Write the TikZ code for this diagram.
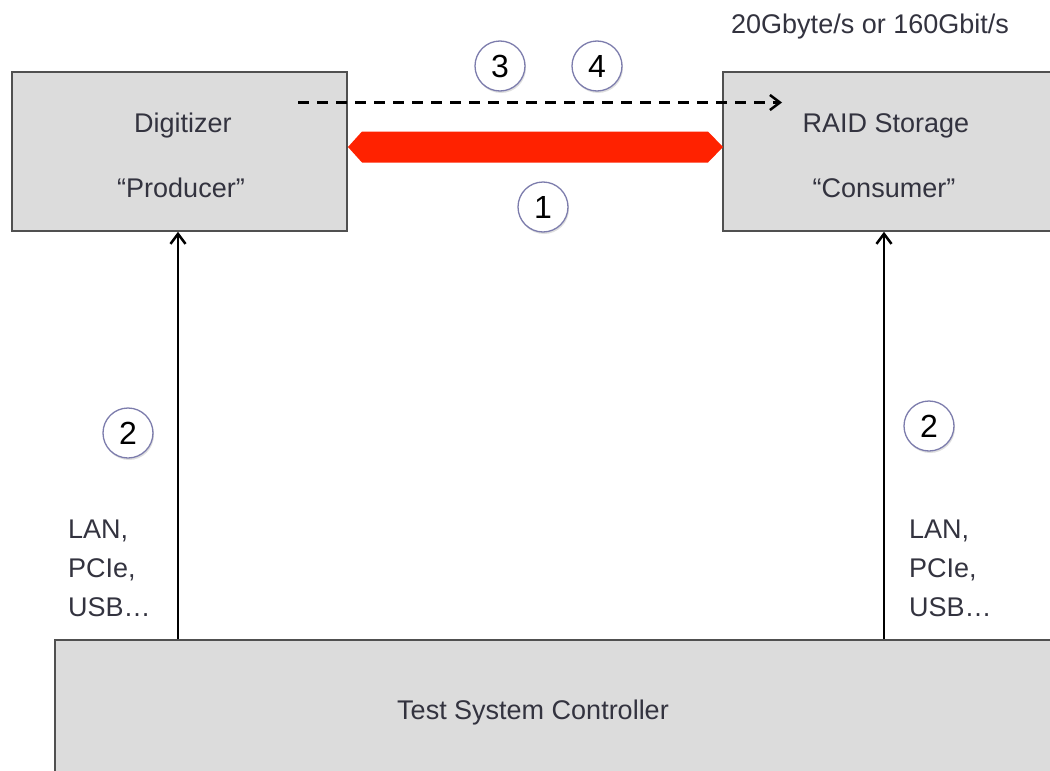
\documentclass[tikz,border=0pt]{standalone}
\usepackage{fontspec}
\setmainfont{Liberation Sans}
\usetikzlibrary{arrows.meta,shadows,calc}
\definecolor{boxfill}{HTML}{DCDCDC}
\definecolor{boxline}{HTML}{505050}
\definecolor{txt}{HTML}{33333F}
\definecolor{redlink}{HTML}{FF2200}
\definecolor{circline}{HTML}{7C7CAC}
\begin{document}
\begin{tikzpicture}[x=1pt,y=-1pt,
  blk/.style={draw=boxline,line width=1.6pt,fill=boxfill,inner sep=0pt},
  lbl/.style={text=txt,font=\fontsize{27}{32}\selectfont,inner sep=0pt},
  multi/.style={text=txt,font=\fontsize{27}{39}\selectfont,inner sep=0pt,align=left,anchor=north west},
  num/.style={circle,draw=circline,line width=1.3pt,fill=white,minimum size=50pt,inner sep=0pt,
    font=\fontsize{32}{34}\selectfont,text=black,
    drop shadow={shadow xshift=1pt,shadow yshift=-2pt,opacity=0.25}},
  link/.style={line width=2.5pt,black,-{Straight Barb[length=10pt,width=15pt,line width=2.5pt]}},
]
\useasboundingbox (0,0) rectangle (1050,771);
\clip (0,0) rectangle (1050,771);
% boxes
\node[blk,minimum width=335pt,minimum height=159pt] (dig) at (179.5,151.5) {};
\node[blk,minimum width=340pt,minimum height=159pt] (raid) at (893,151.5) {};
\node[blk,minimum width=1010pt,minimum height=145pt] (tsc) at (560,712.5) {};
% box texts
\node[lbl,anchor=base] (digt) at (183,132) {Digitizer};
\node[lbl,anchor=base] (prod) at (181,197) {“Producer”};
\node[lbl,anchor=base] (raidt) at (886,132) {RAID Storage};
\node[lbl,anchor=base] (cons) at (884,197) {“Consumer”};
\node[lbl,anchor=base] (tsct) at (533,719) {Test System Controller};
% rate label
\node[lbl,anchor=base west] (rate) at (731,33) {20Gbyte/s or 160Gbit/s};
% red bidirectional link
\coordinate (rl) at (348,147);
\coordinate (rr) at (723,147);
\fill[redlink] (rl) -- ++(14,-15.5) -- ($(rr)+(-15,-15.5)$) -- (rr) -- ($(rr)+(-15,15.5)$) -- ($(rl)+(14,15.5)$) -- cycle;
% dashed arrow
\coordinate (ds) at (298,102.5);
\coordinate (de) at (782,102.5);
\draw[line width=2.6pt,dash pattern=on 11pt off 8pt,-{Straight Barb[length=10pt,width=15pt,line width=2.5pt]}] (ds) -- (de);
% vertical arrows
\draw[link] (tsc.north -| 178,0) -- (dig.south -| 178,0);
\draw[link] (tsc.north -| 884,0) -- (raid.south -| 884,0);
% interface labels
\node[multi] (lanl) at (68,520) {LAN,\\PCIe,\\USB…};
\node[multi] (lanr) at (909,520) {LAN,\\PCIe,\\USB…};
% numbered circles
\node[num] (c3) at (500,66) {3};
\node[num] (c4) at (597,66) {4};
\node[num] (c1) at (543,207) {1};
\node[num] (c2l) at (128,433) {2};
\node[num] (c2r) at (929,426) {2};
\end{tikzpicture}
\end{document}
